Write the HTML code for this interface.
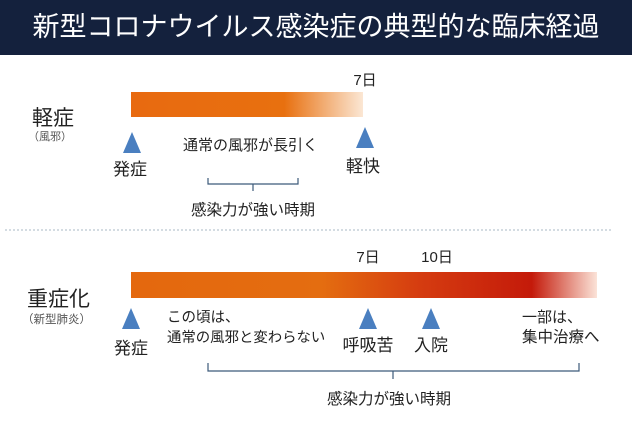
<!DOCTYPE html>
<html><head><meta charset="utf-8">
<style>
html,body{margin:0;padding:0;background:#fff;}
body{width:632px;height:435px;overflow:hidden;font-family:"Liberation Sans","Noto Sans CJK JP",sans-serif;}
svg text{font-family:"Liberation Sans","Noto Sans CJK JP",sans-serif;}
</style></head>
<body>
<svg id="chart" width="632" height="435" viewBox="0 0 632 435">
<defs>
<linearGradient id="gMild" x1="0" x2="1" y1="0" y2="0">
<stop offset="0" stop-color="#e86a10"/><stop offset="0.66" stop-color="#e8700f"/><stop offset="1" stop-color="#fbe7d4"/>
</linearGradient>
<linearGradient id="gSevere" x1="0" x2="1" y1="0" y2="0">
<stop offset="0" stop-color="#e4680e"/><stop offset="0.41" stop-color="#e46d10"/><stop offset="0.62" stop-color="#d53c10"/><stop offset="0.86" stop-color="#c41a0a"/><stop offset="1" stop-color="#fbe3d8"/>
</linearGradient>
</defs>
<rect x="0" y="0" width="632" height="55" fill="#14213d"/>
<text x="316" y="36" text-anchor="middle" font-size="27" fill="#fff">新型コロナウイルス感染症の典型的な臨床経過</text>
<line x1="5" y1="230" x2="612" y2="230" stroke="#a8b8c4" stroke-dasharray="2,2"/>
<g id="marks"></g>
</svg>
<script>
// timeline data (days since onset)
const dayDomain = [0, 7, 10, 14.5];
const mildEnd = 7;
const severeEnd = 14.5;
const mildEvents = [0, 7];
const mildEventLabels = ["発症", "軽快"];
const severeEvents = [0, 7, 10];
const severeEventLabels = ["発症", "呼吸苦", "入院"];
const mildDayLabels = [7];
const severeDayLabels = [7, 10];

const pxRange = [131, 366, 431, 597];
function xScale(d){
  for(let i=0;i<dayDomain.length-1;i++){
    if(d<=dayDomain[i+1]||i===dayDomain.length-2){
      const t=(d-dayDomain[i])/(dayDomain[i+1]-dayDomain[i]);
      return pxRange[i]+t*(pxRange[i+1]-pxRange[i]);
    }
  }
}
const NS="http://www.w3.org/2000/svg";
const g=document.getElementById('marks');
function mk(tag,attrs,text){
  const e=document.createElementNS(NS,tag);
  for(const k in attrs)e.setAttribute(k,attrs[k]);
  if(text!==undefined)e.textContent=text;
  g.appendChild(e);return e;
}
function txt(x,y,s,size,fill,anchor){return mk('text',{x:x,y:y,'font-size':size,fill:fill||'#222','text-anchor':anchor||'start'},s);}

let e;
// Mild section
e=txt(32,125,"軽症",21,"#222");


e=txt(28,140,"（風邪）",11,"#555");


e=mk('rect',{x:xScale(0),y:92,width:xScale(mildEnd)-xScale(0)-3,height:25,fill:'url(#gMild)'});


mildDayLabels.forEach(d=>{
  const t=txt(xScale(d)-1,85,d+"日",15,"#222","middle");
  
  
});
mildEvents.forEach((d,i)=>{
  const x=xScale(d)+(i===0?1:-1);
  const top=i===0?132:127;
  const tri=mk('polygon',{points:`${x},${top} ${x-9},${top+21} ${x+9},${top+21}`,fill:'#4a7fc0'});
  
  
  const t=txt(xScale(d)-(i===0?1:3),i===0?175:172,mildEventLabels[i],17,"#222","middle");
  
  
});
e=txt(183,150,"通常の風邪が長引く",15,"#222");


e=mk('path',{d:'M208,178 v6 h90 v-6 M253,184 v7',fill:'none',stroke:'#3c5a7a','stroke-width':1.2});


e=txt(253,215,"感染力が強い時期",15.5,"#222","middle");



// Severe section
e=txt(27,306,"重症化",21,"#222");


e=txt(22,323,"（新型肺炎）",11.5,"#555");


e=mk('rect',{x:xScale(0),y:272,width:xScale(severeEnd)-xScale(0),height:26,fill:'url(#gSevere)'});


severeDayLabels.forEach((d,i)=>{
  const t=txt(xScale(d)+(i===0?2:6),262,d+"日",15,"#222","middle");
  
  
});
severeEvents.forEach((d,i)=>{
  const x=xScale(d)+(i===1?2:0);
  const tri=mk('polygon',{points:`${x},308 ${x-9},329 ${x+9},329`,fill:'#4a7fc0'});
  
  
  const t=txt(x,i===0?354:351,severeEventLabels[i],17,"#222","middle");
  
  
});
e=txt(167,322,"この頃は、",14.5,"#222");


e=txt(167,342,"通常の風邪と変わらない",14.4,"#222");


e=txt(522,322,"一部は、",15,"#222");


e=txt(522,342,"集中治療へ",15.5,"#222");


e=mk('path',{d:'M208,363 v8 h371 v-8 M393,371 v8',fill:'none',stroke:'#3c5a7a','stroke-width':1.2});


e=txt(389,404,"感染力が強い時期",15.5,"#222","middle");


</script>
</body></html>
